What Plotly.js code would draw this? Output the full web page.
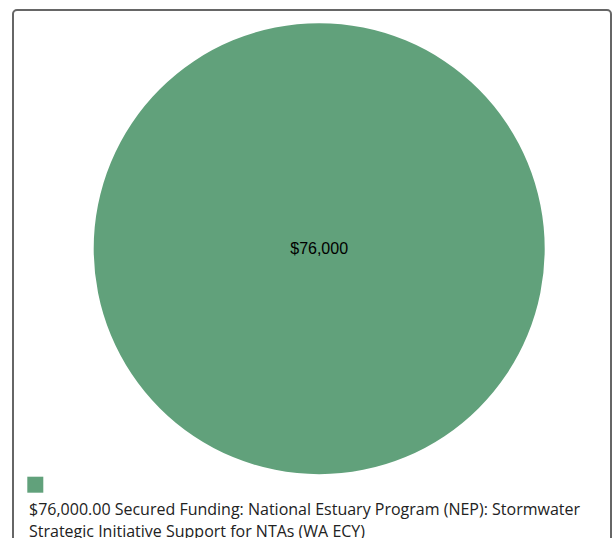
<!DOCTYPE html>
<html>
<head>
<meta charset="utf-8">
<script src="https://cdn.plot.ly/plotly-3.0.1.min.js"></script>
<style>
  html, body { margin: 0; padding: 0; background: #fff; overflow: hidden; }
  #frame { position: absolute; left: 12px; top: 9px; width: 596px; height: 600px;
           border: 2px solid #666; border-radius: 5px; box-sizing: content-box; }
  #chart { position: absolute; left: 0; top: 0; width: 613px; height: 538px; }
</style>
</head>
<body>
<div id="frame"></div>
<div id="chart"></div>
<script>
// Data
var categories = ["$76,000.00 Secured Funding: National Estuary Program (NEP): Stormwater Strategic Initiative Support for NTAs (WA ECY)"];
var legendLines = ["$76,000.00 Secured Funding: National Estuary Program (NEP): Stormwater",
                   "Strategic Initiative Support for NTAs (WA ECY)"];
var values = [76000];
var sliceLabels = ["$76,000"];
var colors = ["#61a17b"];

var W = 613, H = 538;
function px(x) { return x / W; }
function py(y) { return (H - y) / H; }

var cx = 319.2, cy = 248.7, r = 225.5;

var trace = {
  type: 'pie',
  values: values,
  labels: categories,
  text: sliceLabels,
  textinfo: 'text',
  textposition: 'inside',
  insidetextorientation: 'horizontal',
  textfont: { family: 'Liberation Sans, Arial, sans-serif', size: 16, color: '#000' },
  marker: { colors: colors, line: { width: 0 } },
  sort: false,
  showlegend: false,
  hoverinfo: 'label+value',
  domain: { x: [px(cx - r), px(cx + r)], y: [py(cy + r), py(cy - r)] }
};

var annotations = legendLines.map(function (t, i) {
  return {
    xref: 'paper', yref: 'paper',
    x: px(27), y: py(509 + i * 22),
    xanchor: 'left', yanchor: 'middle',
    text: t, showarrow: false, align: 'left',
    font: { family: 'Open Sans, sans-serif', size: 16, color: '#222' }
  };
});

var layout = {
  width: W, height: H,
  margin: { l: 0, r: 0, t: 0, b: 0 },
  paper_bgcolor: 'rgba(0,0,0,0)',
  plot_bgcolor: 'rgba(0,0,0,0)',
  showlegend: false,
  annotations: annotations,
  shapes: [{
    type: 'rect', xref: 'paper', yref: 'paper',
    x0: px(27.3), x1: px(43.3), y0: py(492.7), y1: py(476.7),
    fillcolor: colors[0], line: { width: 0 }
  }]
};

Plotly.newPlot('chart', [trace], layout, { displayModeBar: false, staticPlot: true });
</script>
</body>
</html>
